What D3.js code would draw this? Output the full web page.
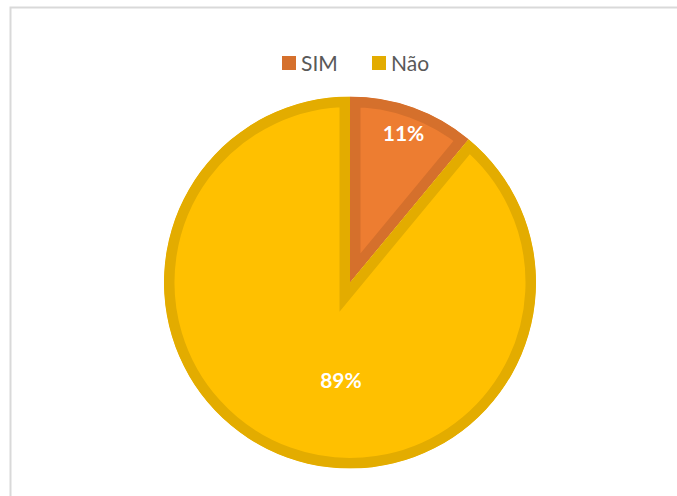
<!DOCTYPE html>
<html><head><meta charset="utf-8">
<script src="https://cdn.jsdelivr.net/npm/d3@7"></script>
<style>html,body{margin:0;padding:0;background:#fff;}svg{display:block;}</style>
</head><body>
<script>
const categories = ["SIM", "Não"];
const values = [11, 89];
const labels = ["11%", "89%"];
const fillColors = ["#ED7D31", "#FFC000"];
const borderColors = ["#D5702C", "#E3AC00"];

const W = 677, H = 496;
const cx = 350, cy = 282.5, R = 186, borderW = 10.5;
const font = "Lato, 'Open Sans', sans-serif";

const svg = d3.select("body").append("svg").attr("width", W).attr("height", H);
svg.append("rect").attr("width", W).attr("height", H).attr("fill", "#fff");
svg.append("rect").attr("x", 10.5).attr("y", 7.5).attr("width", W + 20).attr("height", H + 20)
  .attr("fill", "none").attr("stroke", "#d9d9d9").attr("stroke-width", 2);

const pie = d3.pie().sort(null).value(d => d.v);
const data = pie(categories.map((c, i) => ({c, v: values[i], i})));
const arc = d3.arc().innerRadius(0).outerRadius(R);

const g = svg.append("g").attr("transform", `translate(${cx},${cy})`);
const defs = svg.append("defs");
data.forEach((d, k) => {
  defs.append("clipPath").attr("id", "clip" + k).append("path").attr("d", arc(d));
});
g.selectAll("path.slice").data(data).join("path")
  .attr("class", "slice")
  .attr("d", arc)
  .attr("fill", d => fillColors[d.data.i])
  .attr("stroke", d => borderColors[d.data.i])
  .attr("stroke-width", borderW * 2)
  .attr("clip-path", (d, k) => `url(#clip${k})`);

// label placement (layout): radius along an angle
function labelPos(d, k) {
  if (k === 0) {
    const a = (d.startAngle + d.endAngle) / 2, r = 158;
    return [r * Math.sin(a), -r * Math.cos(a)];
  } else {
    const a = Math.PI * 185.3 / 180, r = 98;
    return [r * Math.sin(a), -r * Math.cos(a)];
  }
}
g.selectAll("text.lbl").data(data).join("text")
  .attr("class", "lbl")
  .attr("x", (d, k) => labelPos(d, k)[0])
  .attr("y", (d, k) => labelPos(d, k)[1])
  .attr("dy", "0.36em")
  .attr("text-anchor", "middle")
  .attr("fill", "#fff")
  .attr("font-family", font)
  .attr("font-weight", "bold")
  .attr("font-size", 21)
  .text(d => labels[d.data.i]);

// legend
const legendX = [282, 372];
const lg = svg.append("g");
categories.forEach((c, i) => {
  lg.append("rect").attr("x", legendX[i]).attr("y", 56).attr("width", 14).attr("height", 14)
    .attr("fill", borderColors[i]);
  lg.append("text").attr("x", legendX[i] + 19).attr("y", 70.5)
    .attr("fill", "#595959").attr("font-family", font).attr("font-size", 21)
    .text(c);
});
</script>
</body></html>
